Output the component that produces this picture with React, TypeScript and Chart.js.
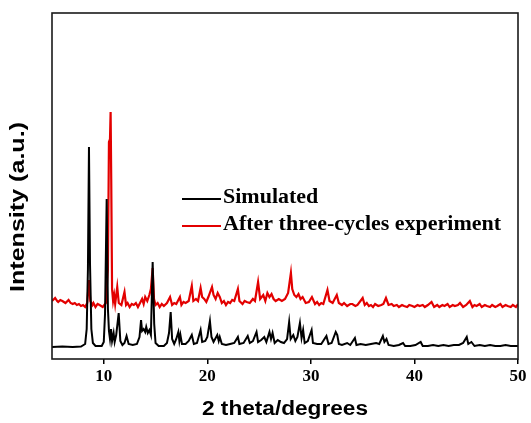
import React, { useEffect, useRef } from 'react';
import { Chart, registerables } from 'chart.js';

Chart.register(...registerables);

const seriesLabels = ['Simulated', 'After three-cycles experiment'];
const seriesColors = ['#000000', '#e30000'];
const xTicks = [10, 20, 30, 40, 50];
const xTitle = '2 theta/degrees';
const yTitle = 'Intensity (a.u.)';

// [2θ, intensity (a.u.)]
const simulated: number[][] = [
  [5, 12], [6, 12.5], [7, 12], [7.8, 12.5], [8.2, 15], [8.35, 30], [8.47, 90], [8.57, 212], [8.67, 95], [8.8, 30], [8.95, 16],
  [9.2, 13], [9.8, 13], [10.0, 17], [10.12, 45], [10.28, 160], [10.4, 50], [10.5, 28], [10.6, 20], [10.7, 30], [10.8, 18],
  [10.95, 26], [11.05, 17], [11.2, 24], [11.44, 46], [11.6, 18], [11.8, 14], [12.0, 16], [12.2, 23], [12.4, 15], [12.8, 14],
  [13.2, 15], [13.45, 22], [13.6, 39], [13.7, 28], [13.85, 30], [14.0, 27], [14.1, 32], [14.25, 26], [14.4, 29], [14.55, 24],
  [14.72, 97], [14.87, 35], [15.0, 16], [15.3, 13], [15.8, 13], [16.1, 16], [16.3, 26], [16.46, 47], [16.6, 20], [16.8, 15],
  [17.0, 20], [17.2, 27], [17.3, 18], [17.4, 24], [17.55, 15], [17.9, 15], [18.2, 18], [18.5, 24], [18.7, 15], [19.0, 16],
  [19.35, 29], [19.5, 17], [19.8, 18], [20.0, 22], [20.25, 38], [20.4, 22], [20.6, 17], [20.96, 24], [21.1, 18], [21.2, 22],
  [21.4, 15], [21.8, 14], [22.2, 15], [22.6, 16], [22.95, 22], [23.1, 15], [23.5, 16], [23.9, 23], [24.1, 16], [24.4, 18],
  [24.75, 27], [24.9, 17], [25.2, 19], [25.5, 22], [25.7, 17], [26.0, 27], [26.15, 20], [26.3, 26], [26.5, 16], [26.8, 19],
  [27.1, 17], [27.4, 16], [27.7, 20], [27.9, 37], [28.05, 20], [28.3, 24], [28.5, 18], [28.7, 22], [28.94, 36], [29.1, 21],
  [29.25, 29], [29.4, 16], [29.7, 18], [30.07, 29], [30.2, 16], [30.6, 15], [31.0, 15], [31.5, 23], [31.7, 15], [32.0, 16],
  [32.4, 27], [32.55, 24], [32.7, 15], [33.0, 14], [33.5, 16], [33.8, 14], [34.25, 21], [34.4, 14], [34.8, 15], [35.3, 14],
  [35.8, 15], [36.3, 16], [36.6, 15], [36.95, 23], [37.1, 17], [37.3, 20], [37.5, 14], [38.0, 13], [38.5, 14], [38.9, 16],
  [39.1, 13], [39.6, 13], [40.1, 14], [40.6, 17], [40.8, 13], [41.3, 13], [41.8, 14], [42.3, 13], [42.8, 14], [43.3, 13],
  [43.8, 14], [44.3, 14], [44.7, 16], [45.05, 22], [45.2, 15], [45.5, 17], [45.8, 13], [46.3, 14], [46.8, 13], [47.3, 14],
  [47.8, 13], [48.3, 13], [48.8, 14], [49.3, 13], [50, 13],
];

const experiment: number[][] = [
  [5, 58], [5.2, 60], [5.3, 61], [5.5, 58], [5.6, 57], [5.8, 59], [6.0, 58], [6.3, 56], [6.6, 59], [6.8, 56], [7.0, 55],
  [7.2, 56], [7.4, 54], [7.6, 55], [7.8, 53], [8.0, 54], [8.2, 52], [8.4, 56], [8.57, 79], [8.7, 58], [8.9, 54], [9.0, 56],
  [9.2, 52], [9.4, 55], [9.6, 54], [9.9, 52], [10.2, 56], [10.4, 90], [10.5, 217], [10.6, 220], [10.66, 247], [10.72, 180],
  [10.8, 70], [10.9, 58], [11.0, 64], [11.1, 55], [11.3, 72], [11.45, 56], [11.7, 54], [12.0, 67], [12.15, 54], [12.3, 56],
  [12.5, 52], [12.7, 55], [12.9, 54], [13.1, 56], [13.3, 52], [13.5, 56], [13.7, 60], [13.85, 55], [14.0, 62], [14.2, 58],
  [14.4, 64], [14.55, 70], [14.72, 91], [14.85, 60], [15.0, 54], [15.2, 56], [15.4, 52], [15.6, 55], [15.8, 53], [16.1, 56],
  [16.4, 62], [16.6, 54], [16.8, 56], [17.0, 55], [17.35, 62], [17.5, 54], [17.7, 57], [17.9, 56], [18.2, 58], [18.5, 73],
  [18.65, 58], [18.9, 60], [19.1, 58], [19.35, 71], [19.5, 62], [19.7, 60], [19.9, 57], [20.1, 62], [20.45, 72], [20.6, 64],
  [20.8, 60], [21.0, 66], [21.2, 62], [21.4, 56], [21.6, 58], [21.8, 54], [22.0, 57], [22.2, 56], [22.4, 59], [22.6, 58],
  [22.95, 70], [23.1, 58], [23.4, 55], [23.6, 58], [23.8, 57], [24.1, 56], [24.4, 60], [24.6, 58], [24.9, 77], [25.1, 60],
  [25.4, 64], [25.6, 58], [25.8, 66], [26.0, 62], [26.2, 65], [26.4, 60], [26.6, 58], [26.9, 60], [27.2, 58], [27.5, 60],
  [27.8, 66], [28.07, 86], [28.2, 70], [28.4, 64], [28.6, 62], [28.8, 65], [29.0, 60], [29.2, 62], [29.5, 56], [29.8, 57],
  [30.1, 62], [30.4, 55], [30.6, 57], [30.8, 54], [31.0, 56], [31.2, 55], [31.6, 69], [31.8, 58], [32.1, 56], [32.5, 64],
  [32.7, 56], [33.0, 54], [33.2, 56], [33.5, 53], [33.8, 55], [34.0, 55], [34.3, 53], [34.5, 54], [35.0, 61], [35.2, 54],
  [35.4, 56], [35.6, 53], [35.8, 54], [36.0, 52], [36.2, 55], [36.5, 53], [36.8, 54], [37.0, 55], [37.25, 61], [37.5, 54],
  [37.8, 55], [38.0, 53], [38.3, 54], [38.5, 52], [38.8, 54], [39.0, 53], [39.3, 52], [39.5, 54], [39.8, 53], [40.0, 52],
  [40.3, 54], [40.5, 53], [40.8, 54], [41.0, 52], [41.3, 54], [41.65, 57], [41.9, 52], [42.2, 54], [42.4, 52], [42.7, 54],
  [42.9, 53], [43.2, 55], [43.4, 52], [43.7, 54], [43.9, 53], [44.2, 54], [44.4, 56], [44.7, 52], [45.0, 54], [45.35, 58],
  [45.6, 52], [45.8, 54], [46.0, 53], [46.3, 55], [46.5, 52], [46.8, 54], [47.0, 53], [47.3, 52], [47.5, 54], [47.8, 52],
  [48.0, 53], [48.3, 55], [48.5, 52], [48.8, 54], [49.0, 53], [49.3, 52], [49.5, 54], [49.8, 52], [50, 55],
];

function drawStretched(ctx: CanvasRenderingContext2D, text: string, x: number, y: number, font: string, targetWidth: number, rotate = 0) {
  ctx.save();
  ctx.font = font;
  const w = ctx.measureText(text).width;
  ctx.translate(x, y);
  if (rotate) ctx.rotate(rotate);
  ctx.scale(targetWidth / w, 1);
  ctx.textAlign = 'center';
  ctx.textBaseline = 'middle';
  ctx.fillStyle = '#000';
  ctx.fillText(text, 0, 0);
  ctx.restore();
}

export default function App() {
  const ref = useRef<HTMLCanvasElement>(null);

  useEffect(() => {
    if (!ref.current) return;
    const decor = {
      id: 'decor',
      afterDraw(chart: any) {
        const ctx: CanvasRenderingContext2D = chart.ctx;
        const { left, top, right, bottom } = chart.chartArea;
        ctx.save();
        ctx.strokeStyle = '#1a1a1a';
        ctx.lineWidth = 1.6;
        ctx.strokeRect(left, top, right - left, bottom - top);
        // legend
        const rows = [199, 226];
        seriesLabels.forEach((label, i) => {
          ctx.strokeStyle = seriesColors[i];
          ctx.lineWidth = 2;
          ctx.beginPath();
          ctx.moveTo(182, rows[i]);
          ctx.lineTo(221, rows[i]);
          ctx.stroke();
          ctx.save();
          ctx.font = 'bold 20px "Liberation Serif", "Times New Roman", serif';
          ctx.translate(223, rows[i] + 4);
          ctx.scale(1.1, 1);
          ctx.fillStyle = '#000';
          ctx.textAlign = 'left';
          ctx.textBaseline = 'alphabetic';
          ctx.fillText(label, 0, 0);
          ctx.restore();
        });
        // axis titles
        drawStretched(ctx, yTitle, 18, 207, 'bold 21px "Liberation Sans", Arial, sans-serif', 170, -Math.PI / 2);
        drawStretched(ctx, xTitle, 285, 409, 'bold 20px "Liberation Sans", Arial, sans-serif', 166);
        ctx.restore();
      },
    };

    const chart = new Chart(ref.current, {
      type: 'line',
      data: {
        datasets: [
          {
            label: seriesLabels[0],
            data: simulated.map(([x, y]) => ({ x, y })),
            borderColor: seriesColors[0],
            borderWidth: 2,
            pointRadius: 0,
            tension: 0,
          },
          {
            label: seriesLabels[1],
            data: experiment.map(([x, y]) => ({ x, y })),
            borderColor: seriesColors[1],
            borderWidth: 2.2,
            pointRadius: 0,
            tension: 0,
          },
        ],
      },
      options: {
        animation: false,
        responsive: true,
        maintainAspectRatio: false,
        layout: { padding: { top: 13, right: 13, left: 0, bottom: 0 } },
        plugins: { legend: { display: false }, tooltip: { enabled: false } },
        scales: {
          x: {
            type: 'linear',
            min: 5,
            max: 50,
            afterBuildTicks: (scale: any) => {
              scale.ticks = xTicks.map((v) => ({ value: v }));
            },
            afterFit: (scale: any) => {
              scale.height = 64;
            },
            grid: { display: true, drawOnChartArea: false, drawTicks: true, tickLength: 5, color: '#000', lineWidth: 1.5 },
            border: { display: false },
            ticks: {
              padding: 2,
              color: '#000',
              maxRotation: 0,
              font: { family: '"Liberation Serif", "Times New Roman", serif', size: 17, weight: 'bold' },
            },
          },
          y: {
            type: 'linear',
            min: 0,
            max: 346,
            afterFit: (scale: any) => {
              scale.width = 52;
            },
            grid: { display: false },
            border: { display: false },
            ticks: { display: false },
          },
        },
      },
      plugins: [decor],
    } as any);

    return () => chart.destroy();
  }, []);

  return (
    <div style={{ position: 'fixed', left: 0, top: 0, width: 531, height: 423, background: '#fff' }}>
      <canvas ref={ref} />
    </div>
  );
}
